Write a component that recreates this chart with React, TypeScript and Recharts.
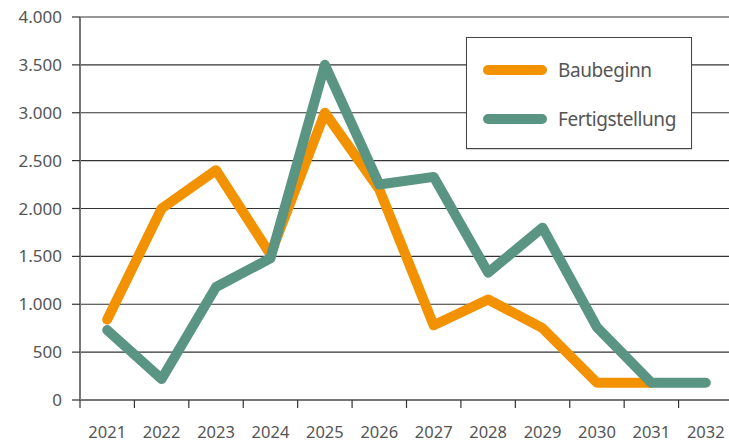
import React from "react";
import { LineChart, Line, XAxis, YAxis, CartesianGrid, Legend } from "recharts";

const years = ["2021", "2022", "2023", "2024", "2025", "2026", "2027", "2028", "2029", "2030", "2031", "2032"];
const baubeginn = [840, 2000, 2400, 1520, 3000, 2200, 780, 1050, 750, 180, 180, null];
const fertigstellung = [730, 220, 1180, 1480, 3500, 2250, 2330, 1330, 1800, 760, 180, 180];
const yTicks = [0, 500, 1000, 1500, 2000, 2500, 3000, 3500, 4000];

const ORANGE = "#F39200";
const GREEN = "#5A9482";
const FONT = "'Noto Sans', sans-serif";

const data = years.map((year, i) => ({
  year,
  Baubeginn: baubeginn[i],
  Fertigstellung: fertigstellung[i],
}));

// Tausender mit Punkt
const fmt = (v: number) => v.toLocaleString("de-DE");

// Tick-Striche zwischen den Kategorien, Label in der Mitte
const XTick = ({ x, y, payload }: any) => {
  const half = payload && payload.offset ? payload.offset : 27.2;
  const bx = x - half;
  return (
    <g>
      <line x1={bx} y1={y - 8} x2={bx} y2={y} stroke="#333" strokeWidth={1.2} />
      <text x={x} y={y + 30} textAnchor="middle" fill="#555" fontSize={16.5} fontFamily={FONT}>
        {payload.value}
      </text>
    </g>
  );
};

const LegendBox = ({ payload }: any) => (
  <div
    style={{
      width: 226,
      height: 112,
      boxSizing: "border-box",
      border: "1.5px solid #444",
      background: "#fff",
      boxShadow: "0 1px 1px rgba(0,0,0,0.15)",
      paddingTop: 7,
      paddingLeft: 16,
      fontFamily: FONT,
    }}
  >
    {(payload || []).map((entry: any) => (
      <div key={entry.value} style={{ height: 49, display: "flex", alignItems: "center" }}>
        <span
          style={{
            display: "inline-block",
            width: 64,
            height: 10,
            borderRadius: 5,
            background: entry.color,
            marginRight: 11,
          }}
        />
        <span style={{ fontSize: 19, letterSpacing: -0.4, color: "#555" }}>{entry.value}</span>
      </div>
    ))}
  </div>
);

export default function App() {
  return (
    <div style={{ position: "absolute", left: 0, top: 0, width: 729, height: 444, overflow: "hidden", background: "#fff" }}>
      <LineChart width={740} height={444} data={data} margin={{ top: 17, right: 7, left: 0, bottom: 0 }}>
        <CartesianGrid vertical={false} stroke="#333" strokeWidth={1.2} />
        <XAxis
          dataKey="year"
          scale="band"
          height={44}
          tickSize={8}
          tickMargin={0}
          tickLine={false}
          axisLine={{ stroke: "#777", strokeWidth: 2 }}
          tick={<XTick />}
          interval={0}
        />
        <YAxis
          width={80}
          domain={[0, 4000]}
          ticks={yTicks}
          tickFormatter={fmt}
          tickSize={8}
          tickMargin={10}
          tickLine={{ stroke: "#333", strokeWidth: 1.2 }}
          axisLine={{ stroke: "#777", strokeWidth: 2 }}
          tick={{ fill: "#555", fontSize: 17, fontFamily: FONT }}
          interval={0}
        />
        <Legend
          layout="horizontal"
          verticalAlign="middle"
          align="center"
          wrapperStyle={{ top: 37, left: 466, width: 226, height: 112 }}
          content={<LegendBox />}
        />
        <Line
          type="linear"
          dataKey="Baubeginn"
          stroke={ORANGE}
          strokeWidth={10}
          strokeLinejoin="round"
          strokeLinecap="round"
          dot={false}
          activeDot={false}
          isAnimationActive={false}
        />
        <Line
          type="linear"
          dataKey="Fertigstellung"
          stroke={GREEN}
          strokeWidth={10}
          strokeLinejoin="round"
          strokeLinecap="round"
          dot={false}
          activeDot={false}
          isAnimationActive={false}
        />
      </LineChart>
    </div>
  );
}
